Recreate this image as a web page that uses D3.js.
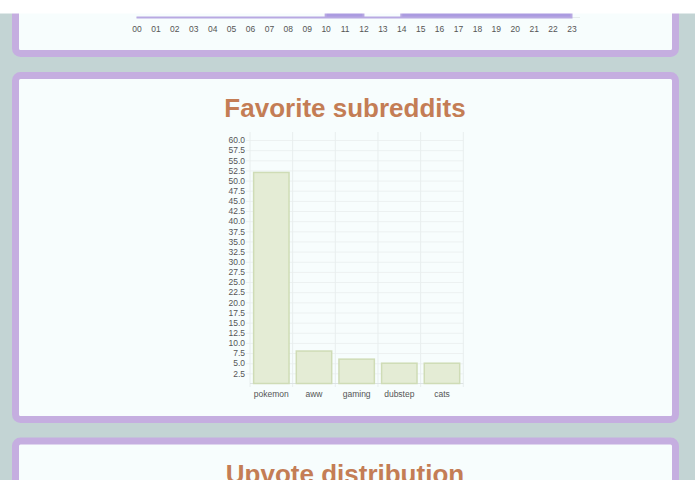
<!DOCTYPE html>
<html>
<head>
<meta charset="utf-8">
<script src="https://cdn.jsdelivr.net/npm/d3@7"></script>
<style>
  html, body { margin: 0; padding: 0; background: #c3d4d4; }
  svg { display: block; }
</style>
</head>
<body>
<svg id="chart" width="695" height="494"></svg>
<script>
// ---- data ----
const categories = ["pokemon", "aww", "gaming", "dubstep", "cats"];
const counts = [52, 8, 6, 5, 5];
const yTickValues = [2.5, 5, 7.5, 10, 12.5, 15, 17.5, 20, 22.5, 25, 27.5, 30, 32.5, 35, 37.5, 40, 42.5, 45, 47.5, 50, 52.5, 55, 57.5, 60];
const hours = ["00","01","02","03","04","05","06","07","08","09","10","11","12","13","14","15","16","17","18","19","20","21","22","23"];
const hourValues = [0,0,0,0,0,0,0,0,0,0,40,40,0,0,40,40,40,40,40,40,40,40,40,40];
const titles = ["Favorite subreddits", "Upvote distribution"];

const svg = d3.select("#chart");
const W = 695, H = 494;

// background
svg.append("rect").attr("width", W).attr("height", H).attr("fill", "#c3d4d4");

// panels
const panelFill = "#f7fdfd", panelStroke = "#c5aee0";
const panels = [
  {y0: -300, y1: 53.5},
  {y0: 75.5, y1: 419.5},
  {y0: 441, y1: 800}
];
svg.selectAll("rect.panel").data(panels).join("rect")
  .attr("class", "panel")
  .attr("x", 15.5).attr("y", d => d.y0)
  .attr("width", 660).attr("height", d => d.y1 - d.y0)
  .attr("rx", 5).attr("ry", 5)
  .attr("fill", panelFill).attr("stroke", panelStroke).attr("stroke-width", 7);

// ---- top (partial) hourly area chart ----
const xh = d3.scalePoint().domain(hours).range([136.5, 571.5]);
const yh = d3.scaleLinear().domain([0, 40]).range([17.5, -60]);
const area = d3.area()
  .x((d, i) => xh(hours[i]))
  .y0(yh(0)).y1(d => yh(d))
  .curve(d3.curveStepAfter);
svg.append("line")
  .attr("x1", xh("00")).attr("x2", 580).attr("y1", yh(0)).attr("y2", yh(0))
  .attr("stroke", "#e6ecec").attr("stroke-width", 1);
svg.append("path").datum(hourValues)
  .attr("d", area)
  .attr("fill", "#ab9be0").attr("stroke", "#b8a9e2").attr("stroke-width", 2);
const hAxis = svg.append("g").attr("transform", `translate(0,${yh(0)})`)
  .call(d3.axisBottom(xh).tickSize(0).tickPadding(8));
hAxis.select(".domain").remove();
hAxis.selectAll("text").attr("fill", "#555").attr("font-size", "8.5px")
  .attr("font-family", "Liberation Sans, Arial, sans-serif");

// white band at very top
svg.append("rect").attr("x", 0).attr("y", 0).attr("width", W).attr("height", 13.5).attr("fill", "#ffffff");

// ---- titles ----
svg.selectAll("text.title").data(titles).join("text")
  .attr("class", "title")
  .attr("x", 345).attr("y", (d, i) => i === 0 ? 117 : 483)
  .attr("text-anchor", "middle")
  .attr("font-family", "Liberation Sans, Arial, Helvetica, sans-serif")
  .attr("font-weight", "bold").attr("font-size", "26px")
  .attr("fill", "#c47d55")
  .text(d => d);

// ---- bar chart ----
const x = d3.scaleBand().domain(categories).range([250, 463.3]).padding(0);
const y = d3.scaleLinear().domain([0, 60]).range([383.5, 140]);
const g = svg.append("g");

// horizontal grid
g.selectAll("line.hgrid").data(yTickValues).join("line")
  .attr("x1", 246).attr("x2", 463.3)
  .attr("y1", d => y(d) + 0.5).attr("y2", d => y(d) + 0.5)
  .attr("stroke", "#ecf1f1").attr("stroke-width", 1);
// vertical grid
const vx = categories.map(c => x(c)).concat([x.range()[1]]);
g.selectAll("line.vgrid").data(vx).join("line")
  .attr("x1", d => d).attr("x2", d => d)
  .attr("y1", 132).attr("y2", 387)
  .attr("stroke", "#e8eeee").attr("stroke-width", 1);
// x axis line
g.append("line").attr("x1", 250).attr("x2", 463.3).attr("y1", y(0)).attr("y2", y(0))
  .attr("stroke", "#dde3e3").attr("stroke-width", 1);

// bars
const bw = x.bandwidth();
g.selectAll("rect.bar").data(counts).join("rect")
  .attr("class", "bar")
  .attr("x", (d, i) => x(categories[i]) + bw * 0.085)
  .attr("width", bw * 0.83)
  .attr("y", d => y(d))
  .attr("height", d => y(0) - y(d))
  .attr("fill", "#e4ecd5").attr("stroke", "#cfdcb6").attr("stroke-width", 1.5);

// y axis labels
const yAxis = g.append("g").attr("transform", "translate(250,0)")
  .call(d3.axisLeft(y).tickValues(yTickValues).tickFormat(d3.format(".1f")).tickSize(0).tickPadding(5));
yAxis.select(".domain").remove();
yAxis.selectAll("text").attr("fill", "#555").attr("font-size", "8.5px")
  .attr("font-family", "Liberation Sans, Arial, sans-serif");

// x axis labels
const xAxis = g.append("g").attr("transform", `translate(0,${y(0)})`)
  .call(d3.axisBottom(x).tickSize(0).tickPadding(7));
xAxis.select(".domain").remove();
xAxis.selectAll("text").attr("fill", "#555").attr("font-size", "8.5px")
  .attr("font-family", "Liberation Sans, Arial, sans-serif");

// white band at very bottom
svg.append("rect").attr("x", 0).attr("y", 480).attr("width", W).attr("height", 14).attr("fill", "#ffffff");
</script>
</body>
</html>
